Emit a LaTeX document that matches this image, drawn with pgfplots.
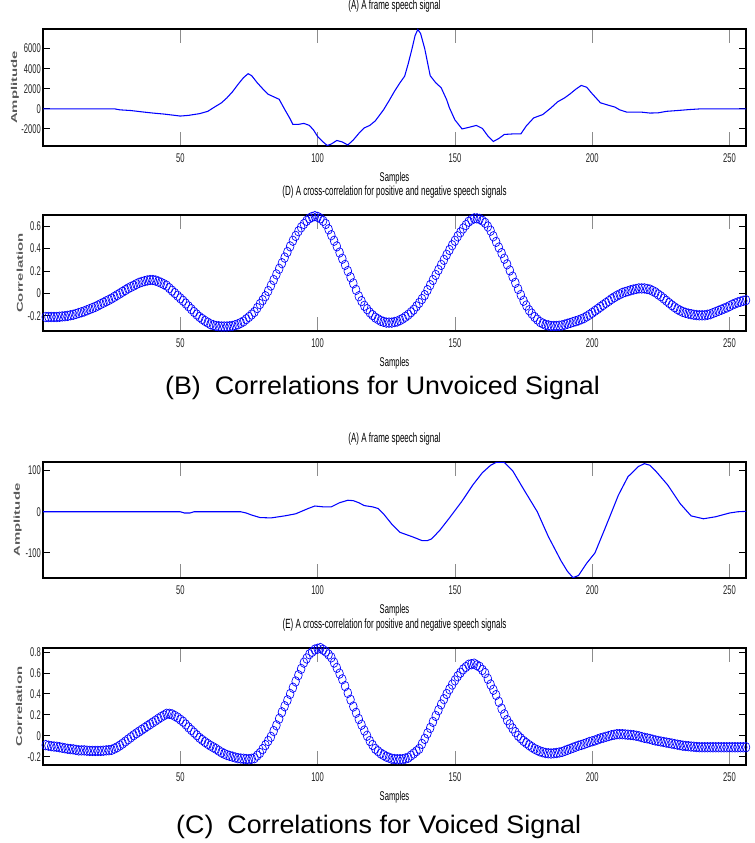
\documentclass[border=0pt]{standalone}
\usepackage{fontspec}
\setmainfont{Liberation Sans}
\newfontfamily\narrowfont[FakeStretch=0.6]{Liberation Sans}
\newfontfamily\widefont[FakeStretch=1.75]{Liberation Sans}
\newfontfamily\capfont[FakeStretch=1.06]{Liberation Sans}
\usepackage{pgfplots}
\pgfplotsset{compat=1.18}

\pgfplotsset{
  speechpanel/.style={
    scale only axis, width=527.25pt, anchor=south west,
    xmin=0, xmax=256,
    xtick={50,100,150,200,250}, xticklabels={50,100,150,200,250},
    tick align=inside, tick pos=both,
    axis line style={line width=0.9pt},
    xtick style={black!45, line width=0.6pt, /pgfplots/major tick length=10.5pt},
    ytick style={black, line width=0.7pt, /pgfplots/major tick length=5.5pt},
    xticklabel style={font=\narrowfont\fontsize{9.5}{10}\selectfont, text=black!85, anchor=center, yshift=-9pt},
    yticklabel style={font=\narrowfont\fontsize{9.5}{10}\selectfont, text=black!85, anchor=east, inner sep=0pt, xshift=-1.5pt},
    title style={font=\narrowfont\fontsize{10}{11}\selectfont, at={(axis description cs:0.5,1)}, anchor=center, yshift=11pt},
    xlabel style={font=\narrowfont\fontsize{9.5}{10}\selectfont, at={(axis description cs:0.5,0)}, anchor=center, yshift=-24pt},
    ylabel style={font=\widefont\fontsize{6.4}{7}\selectfont\bfseries, text=black!65, anchor=center},
    xlabel={Samples},
  },
  sig/.style={blue, line width=0.8pt},
  corr/.style={blue, only marks, mark=o, mark size=3.6pt, mark options={line width=0.5pt, xscale=0.8}},
}

\begin{document}
\begin{tikzpicture}
\path[use as bounding box] (0,0) rectangle (565.5pt,632.25pt);

% unvoiced frame
\begin{axis}[speechpanel, at={(32.25pt,522.75pt)}, height=87.75pt,
  ymin=-3700, ymax=7950,
  ytick={-2000,0,2000,4000,6000}, yticklabels={-2000,0,2000,4000,6000},
  title={(A) A frame speech signal}, ylabel={Amplitude},
  ylabel style={at={(axis description cs:-0.04,0.5)}}]
\addplot[sig] coordinates {
(0,0) (10,0) (20,0) (26,0) (28,-100) (32,-170) (36,-300) (40,-420) (44,-520) (48,-650)
(50,-720) (53,-650) (57,-480) (60,-250) (62,100) (65,600) (67,1100) (69,1700) (71,2430)
(73,3100) (74.7,3500) (76,3300) (78,2600) (80,2000) (82,1450) (84,1200) (86,950) (88,-50)
(90,-1000) (91,-1550) (93,-1550) (95,-1450) (97,-1650) (98.5,-2100) (100,-2750) (102,-3300)
(103.5,-3650) (105,-3500) (107,-3150) (109,-3300) (111,-3600) (113,-3100) (115,-2450)
(117,-1900) (119,-1650) (121,-1200) (124,-100) (126,800) (128,1750) (130,2600) (131.7,3250)
(133,4500) (134.3,5900) (135.5,7300) (136.5,7900) (137.5,7500) (139,6000) (141,3300)
(143,2600) (145,2100) (147,900) (148,100) (150,-1100) (152.6,-2000) (155,-1850) (157.8,-1650)
(160,-1950) (162,-2700) (164,-3250) (166,-2950) (168,-2550) (171,-2500) (174,-2500)
(176,-1700) (178.7,-900) (182,-570) (185,100) (187.4,700) (190,1100) (192,1500) (194,1950)
(196,2330) (198,2150) (200,1500) (203,600) (206,350) (208.3,170) (210,-100) (212.6,-330)
(218,-330) (221,-420) (224,-400) (227,-250) (231,-170) (235,-80) (239.6,0) (256,0)
};
\end{axis}

% unvoiced correlation
\begin{axis}[speechpanel, at={(32.25pt,384pt)}, height=87pt,
  ymin=-0.335, ymax=0.70,
  ytick={-0.2,0,0.2,0.4,0.6}, yticklabels={-0.2,0,0.2,0.4,0.6},
  title={(D) A cross-correlation for positive and negative speech signals}, ylabel={Correlation},
  ylabel style={at={(axis description cs:-0.033,0.5)}}]
\addplot[corr] coordinates {
(1,-0.21) (2,-0.21) (3,-0.21) (4,-0.21) (5,-0.21) (6,-0.208) (7,-0.205) (8,-0.203)
(9,-0.2) (10,-0.195) (11,-0.19) (12,-0.183) (13,-0.175) (14,-0.168) (15,-0.16) (16,-0.15)
(17,-0.14) (18,-0.13) (19,-0.12) (20,-0.108) (21,-0.095) (22,-0.083) (23,-0.07) (24,-0.058)
(25,-0.045) (26,-0.03) (27,-0.015) (28,0) (29,0.015) (30,0.03) (31,0.045) (32,0.058)
(33,0.07) (34,0.083) (35,0.095) (36,0.103) (37,0.11) (38,0.116) (39,0.12) (40,0.12)
(41,0.115) (42,0.106) (43,0.095) (44,0.083) (45,0.07) (46,0.048) (47,0.025) (48,0.003)
(49,-0.02) (50,-0.043) (51,-0.065) (52,-0.09) (53,-0.115) (54,-0.14) (55,-0.165) (56,-0.188)
(57,-0.21) (58,-0.228) (59,-0.245) (60,-0.26) (61,-0.275) (62,-0.283) (63,-0.29) (64,-0.293)
(65,-0.295) (66,-0.295) (67,-0.295) (68,-0.293) (69,-0.29) (70,-0.283) (71,-0.275) (72,-0.263)
(73,-0.25) (74,-0.23) (75,-0.21) (76,-0.188) (77,-0.165) (78,-0.13) (79,-0.095) (80,-0.06)
(81,-0.025) (82,0.022) (83,0.07) (84,0.12) (85,0.17) (86,0.22) (87,0.27) (88,0.32)
(89,0.37) (90,0.42) (91,0.47) (92,0.513) (93,0.555) (94,0.59) (95,0.62) (96,0.648)
(97,0.67) (98,0.683) (99,0.69) (100,0.683) (101,0.67) (102,0.648) (103,0.62) (104,0.572)
(105,0.52) (106,0.47) (107,0.42) (108,0.365) (109,0.31) (110,0.255) (111,0.2) (112,0.145)
(113,0.09) (114,0.032) (115,-0.025) (116,-0.068) (117,-0.11) (118,-0.14) (119,-0.17) (120,-0.193)
(121,-0.215) (122,-0.23) (123,-0.245) (124,-0.253) (125,-0.26) (126,-0.26) (127,-0.26) (128,-0.255)
(129,-0.25) (130,-0.238) (131,-0.225) (132,-0.208) (133,-0.19) (134,-0.168) (135,-0.145) (136,-0.115)
(137,-0.085) (138,-0.05) (139,-0.015) (140,0.03) (141,0.075) (142,0.12) (143,0.165) (144,0.21)
(145,0.255) (146,0.3) (147,0.345) (148,0.388) (149,0.43) (150,0.47) (151,0.51) (152,0.545)
(153,0.58) (154,0.61) (155,0.64) (156,0.658) (157,0.67) (158,0.67) (159,0.665) (160,0.65)
(161,0.63) (162,0.597) (163,0.56) (164,0.51) (165,0.46) (166,0.41) (167,0.36) (168,0.31)
(169,0.26) (170,0.205) (171,0.15) (172,0.095) (173,0.04) (174,-0.013) (175,-0.065) (176,-0.108)
(177,-0.15) (178,-0.18) (179,-0.21) (180,-0.233) (181,-0.255) (182,-0.268) (183,-0.28) (184,-0.285)
(185,-0.29) (186,-0.29) (187,-0.29) (188,-0.288) (189,-0.285) (190,-0.278) (191,-0.27) (192,-0.263)
(193,-0.255) (194,-0.248) (195,-0.24) (196,-0.23) (197,-0.22) (198,-0.205) (199,-0.19) (200,-0.173)
(201,-0.155) (202,-0.138) (203,-0.12) (204,-0.103) (205,-0.085) (206,-0.068) (207,-0.05) (208,-0.035)
(209,-0.02) (210,-0.008) (211,0.005) (212,0.013) (213,0.02) (214,0.028) (215,0.035) (216,0.04)
(217,0.045) (218,0.045) (219,0.045) (220,0.04) (221,0.035) (222,0.023) (223,0.01) (224,-0.008)
(225,-0.025) (226,-0.045) (227,-0.065) (228,-0.085) (229,-0.105) (230,-0.123) (231,-0.14) (232,-0.153)
(233,-0.165) (234,-0.173) (235,-0.18) (236,-0.185) (237,-0.19) (238,-0.193) (239,-0.195) (240,-0.195)
(241,-0.195) (242,-0.19) (243,-0.185) (244,-0.175) (245,-0.165) (246,-0.155) (247,-0.145) (248,-0.135)
(249,-0.125) (250,-0.113) (251,-0.1) (252,-0.09) (253,-0.08) (254,-0.073) (255,-0.065) (256,-0.06)
};
\end{axis}

\node[font=\capfont\fontsize{19}{22}\selectfont] at (286.9pt,341.25pt) {(B)\hspace{0.55em}Correlations for Unvoiced Signal};

% voiced frame
\begin{axis}[speechpanel, at={(32.25pt,198.75pt)}, height=87pt,
  ymin=-161, ymax=121,
  ytick={-100,0,100}, yticklabels={-100,0,100},
  title={(A) A frame speech signal}, ylabel={Amplitude},
  ylabel style={at={(axis description cs:-0.036,0.5)}}]
\addplot[sig] coordinates {
(0,0) (50,0) (51.5,-3) (53.5,-3) (55,0) (72,0) (74,-3) (76,-8) (79,-14) (83,-15) (88,-10)
(92,-5) (96.6,8) (99,14) (102,12) (105,12) (108,22) (111,28) (113,27) (115,22) (117,15)
(120,12) (122,8) (124,-5) (127,-30) (130,-50) (135,-62) (138,-70) (140,-70) (141.5,-66)
(144.5,-45) (148,-15) (152.5,25) (156.5,65) (160,95) (163,113) (165,120) (168,120) (171,100)
(175,55) (180,0) (184,-60) (188.7,-120) (191,-145) (193,-160) (195,-155) (196,-145)
(198,-125) (201,-100) (205,-35) (209.5,40) (213,85) (216.8,110) (219,117) (221,113)
(223,100) (227.5,65) (232,20) (236,-10) (240.5,-17) (245,-12) (250,-3) (253,0) (256,1)
};
\end{axis}

% voiced correlation
\begin{axis}[speechpanel, at={(32.25pt,58.5pt)}, height=87.75pt,
  ymin=-0.28, ymax=0.84,
  ytick={-0.2,0,0.2,0.4,0.6,0.8}, yticklabels={-0.2,0,0.2,0.4,0.6,0.8},
  title={(E) A cross-correlation for positive and negative speech signals}, ylabel={Correlation},
  ylabel style={at={(axis description cs:-0.034,0.5)}}]
\addplot[corr] coordinates {
(1,-0.09) (2,-0.095) (3,-0.1) (4,-0.103) (5,-0.105) (6,-0.11) (7,-0.115) (8,-0.12)
(9,-0.125) (10,-0.128) (11,-0.13) (12,-0.135) (13,-0.14) (14,-0.14) (15,-0.14) (16,-0.143)
(17,-0.145) (18,-0.145) (19,-0.145) (20,-0.145) (21,-0.145) (22,-0.143) (23,-0.14) (24,-0.138)
(25,-0.135) (26,-0.123) (27,-0.11) (28,-0.093) (29,-0.075) (30,-0.055) (31,-0.035) (32,-0.015)
(33,0.005) (34,0.023) (35,0.04) (36,0.058) (37,0.075) (38,0.093) (39,0.11) (40,0.128)
(41,0.145) (42,0.163) (43,0.18) (44,0.195) (45,0.21) (46,0.21) (47,0.205) (48,0.19)
(49,0.175) (50,0.155) (51,0.135) (52,0.108) (53,0.08) (54,0.055) (55,0.03) (56,0.005)
(57,-0.02) (58,-0.04) (59,-0.06) (60,-0.078) (61,-0.095) (62,-0.11) (63,-0.125) (64,-0.143)
(65,-0.16) (66,-0.173) (67,-0.185) (68,-0.193) (69,-0.2) (70,-0.208) (71,-0.215) (72,-0.218)
(73,-0.22) (74,-0.223) (75,-0.225) (76,-0.22) (77,-0.215) (78,-0.19) (79,-0.165) (80,-0.128)
(81,-0.09) (82,-0.05) (83,-0.01) (84,0.045) (85,0.1) (86,0.163) (87,0.225) (88,0.283)
(89,0.34) (90,0.4) (91,0.46) (92,0.52) (93,0.58) (94,0.64) (95,0.7) (96,0.74)
(97,0.78) (98,0.803) (99,0.825) (100,0.833) (101,0.84) (102,0.823) (103,0.805) (104,0.778)
(105,0.75) (106,0.7) (107,0.65) (108,0.595) (109,0.54) (110,0.475) (111,0.41) (112,0.345)
(113,0.28) (114,0.22) (115,0.16) (116,0.105) (117,0.05) (118,0) (119,-0.05) (120,-0.088)
(121,-0.125) (122,-0.148) (123,-0.17) (124,-0.185) (125,-0.2) (126,-0.21) (127,-0.22) (128,-0.223)
(129,-0.225) (130,-0.225) (131,-0.225) (132,-0.218) (133,-0.21) (134,-0.19) (135,-0.17) (136,-0.148)
(137,-0.125) (138,-0.078) (139,-0.03) (140,0.023) (141,0.075) (142,0.133) (143,0.19) (144,0.245)
(145,0.3) (146,0.35) (147,0.4) (148,0.445) (149,0.49) (150,0.53) (151,0.57) (152,0.603)
(153,0.635) (154,0.658) (155,0.68) (156,0.685) (157,0.69) (158,0.675) (159,0.66) (160,0.63)
(161,0.6) (162,0.545) (163,0.49) (164,0.44) (165,0.39) (166,0.325) (167,0.26) (168,0.205)
(169,0.15) (170,0.11) (171,0.07) (172,0.035) (173,0) (174,-0.025) (175,-0.05) (176,-0.07)
(177,-0.09) (178,-0.108) (179,-0.125) (180,-0.138) (181,-0.15) (182,-0.158) (183,-0.165) (184,-0.168)
(185,-0.17) (186,-0.168) (187,-0.165) (188,-0.16) (189,-0.155) (190,-0.145) (191,-0.135) (192,-0.125)
(193,-0.115) (194,-0.105) (195,-0.095) (196,-0.088) (197,-0.08) (198,-0.07) (199,-0.06) (200,-0.053)
(201,-0.045) (202,-0.035) (203,-0.025) (204,-0.018) (205,-0.01) (206,-0.003) (207,0.005) (208,0.01)
(209,0.015) (210,0.015) (211,0.015) (212,0.013) (213,0.01) (214,0.008) (215,0.005) (216,0)
(217,-0.005) (218,-0.013) (219,-0.02) (220,-0.025) (221,-0.03) (222,-0.038) (223,-0.045) (224,-0.05)
(225,-0.055) (226,-0.06) (227,-0.065) (228,-0.07) (229,-0.075) (230,-0.08) (231,-0.085) (232,-0.09)
(233,-0.095) (234,-0.098) (235,-0.1) (236,-0.103) (237,-0.105) (238,-0.108) (239,-0.11) (240,-0.11)
(241,-0.11) (242,-0.11) (243,-0.11) (244,-0.11) (245,-0.11) (246,-0.11) (247,-0.11) (248,-0.11)
(249,-0.11) (250,-0.11) (251,-0.11) (252,-0.11) (253,-0.11) (254,-0.11) (255,-0.11) (256,-0.11)
};
\end{axis}

\node[font=\capfont\fontsize{19}{22}\selectfont] at (284pt,12pt) {(C)\hspace{0.55em}Correlations for Voiced Signal};
\end{tikzpicture}
\end{document}
